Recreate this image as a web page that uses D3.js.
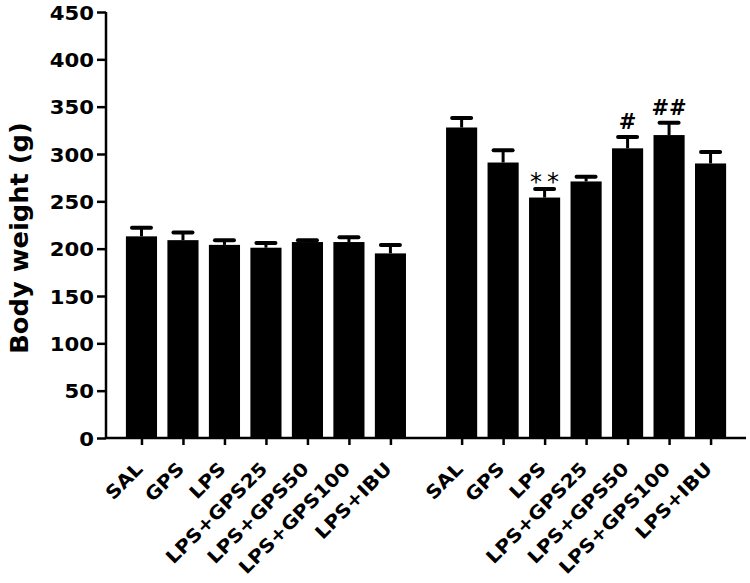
<!DOCTYPE html>
<html>
<head>
<meta charset="utf-8">
<script src="https://cdn.jsdelivr.net/npm/d3@7"></script>
<style>
body{margin:0;background:#fff;}
text{font-family:"DejaVu Sans",Verdana,sans-serif;font-weight:bold;fill:#000;}
</style>
</head>
<body>
<script>
// treatment groups, same order in both blocks
var groups = ["SAL","GPS","LPS","LPS+GPS25","LPS+GPS50","LPS+GPS100","LPS+IBU"];
// first block
var weightA = [213,209,204,201,207,207,195];
var errA = [9,8,5,5,2,5,9];
// second block
var weightB = [328,291,254,271,306,320,290];
var errB = [10,13,9,5,12,13,12];
var sigB = ["","","**","","#","##",""];
var yTicks = [0,50,100,150,200,250,300,350,400,450];

var width = 750, height = 583;
var gapSlot = 7.716; // where the second block starts

var svg = d3.select("body").append("svg")
    .attr("width",width)
    .attr("height",height);

// one slot per bar, second block shifted by gapSlot
var x = d3.scaleLinear().domain([-0.855,14.57]).range([106,746]);
var y = d3.scaleLinear().domain([0,450]).range([438,12]);
var barW = (x(1)-x(0))*0.75;

// reference font is wider than DejaVu, stretch the glyphs a bit
function stretch(sel,k){
    sel.each(function(){
        var l = this.getComputedTextLength();
        d3.select(this).attr("textLength",l*k).attr("lengthAdjust","spacingAndGlyphs");
    });
}

var data = [];
groups.forEach(function(g,i){
    data.push({label:g, slot:i, val:weightA[i], err:errA[i], sig:""});
});
groups.forEach(function(g,i){
    data.push({label:g, slot:i+gapSlot, val:weightB[i], err:errB[i], sig:sigB[i]});
});

// error bars (upper only) drawn first
var eb = svg.selectAll(".err").data(data).enter().append("g").attr("class","err");
eb.append("line")
    .attr("x1",function(d){return x(d.slot);})
    .attr("x2",function(d){return x(d.slot);})
    .attr("y1",function(d){return y(d.val);})
    .attr("y2",function(d){return y(d.val+d.err);})
    .attr("stroke","#000").attr("stroke-width",3);
eb.append("line")
    .attr("x1",function(d){return x(d.slot)-9.5;})
    .attr("x2",function(d){return x(d.slot)+9.5;})
    .attr("y1",function(d){return y(d.val+d.err);})
    .attr("y2",function(d){return y(d.val+d.err);})
    .attr("stroke","#000").attr("stroke-width",4).attr("stroke-linecap","round");

svg.selectAll(".bar").data(data).enter().append("rect")
    .attr("class","bar")
    .attr("x",function(d){return x(d.slot)-barW/2;})
    .attr("y",function(d){return y(d.val);})
    .attr("width",barW)
    .attr("height",function(d){return y(0)-y(d.val);})
    .attr("fill","#000");

// significance marks
var sig = svg.selectAll(".sig").data(data.filter(function(d){return d.sig;})).enter().append("text")
    .attr("class","sig")
    .attr("text-anchor","middle")
    .text(function(d){return d.sig;});
sig.filter(function(d){return d.sig[0]=="*";})
    .attr("x",function(d){return x(d.slot)+2.5;})
    .attr("y",function(d){return y(d.val+d.err)+1;})
    .style("font-size","24px").style("font-weight","normal")
    .style("letter-spacing","5px");
sig.filter(function(d){return d.sig[0]=="#";})
    .attr("x",function(d){return x(d.slot);})
    .attr("y",function(d){return y(d.val+d.err)-8;})
    .style("font-size","21px");

// y axis
var yAxis = svg.append("g")
    .attr("transform","translate(106,0)")
    .call(d3.axisLeft(y).tickValues(yTicks).tickSize(9).tickPadding(3));
yAxis.selectAll("path,line").attr("stroke","#000").attr("stroke-width",2.5);
yAxis.select(".domain").attr("d","M0,"+y(450)+"V"+y(0));
yAxis.selectAll("text")
    .style("font-size","20px").style("font-family","DejaVu Sans").style("font-weight","bold")
    .attr("dy","0.36em")
    .call(stretch,1.06);

// x axis
var xAxis = svg.append("g")
    .attr("transform","translate(0,"+y(0)+")")
    .call(d3.axisBottom(x)
        .tickValues(data.map(function(d){return d.slot;}))
        .tickFormat(function(s,i){return data[i].label;})
        .tickSize(7));
xAxis.selectAll("path,line").attr("stroke","#000").attr("stroke-width",2.5);
xAxis.select(".domain").attr("d","M106,0H746");
xAxis.selectAll("text")
    .attr("y",0).attr("dy",0)
    .attr("text-anchor","end")
    .attr("transform","translate(2,32) rotate(-45)")
    .style("font-size","18.5px").style("font-family","DejaVu Sans").style("font-weight","bold")
    .call(stretch,1.1);

svg.append("text")
    .attr("transform","translate(28,238) rotate(-90)")
    .attr("text-anchor","middle")
    .style("font-size","25px")
    .text("Body weight (g)")
    .call(stretch,1.03);
</script>
</body>
</html>
